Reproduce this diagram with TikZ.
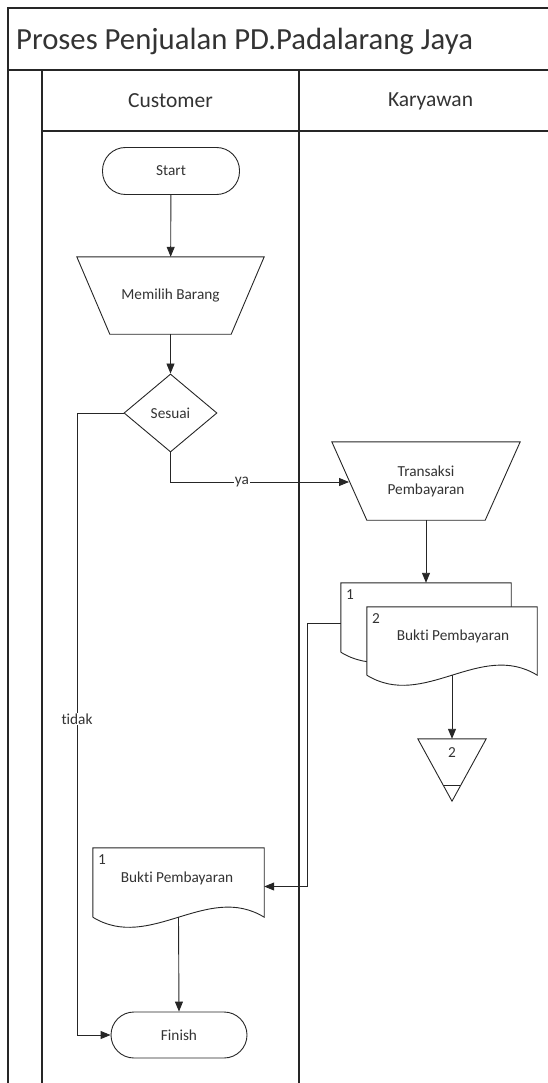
\documentclass[tikz,border=0pt]{standalone}
\usepackage{fontspec}
\setmainfont[Ligatures=NoCommon]{Carlito}
\usetikzlibrary{shapes.geometric,arrows.meta,calc}
\definecolor{ink}{HTML}{262626}
\definecolor{txt}{HTML}{333333}
\begin{document}
\begin{tikzpicture}[x=1pt,y=-1pt,
  line/.style={draw=ink, line width=0.9pt},
  arr/.style={line, -{Triangle[length=10pt,width=8pt]}},
  frame/.style={draw=ink, line width=1.2pt},
  nodefont/.style={font=\fontsize{15.3}{18}\selectfont, text=txt},
  term/.style={line, nodefont, rounded corners=23pt, minimum width=137pt, minimum height=47pt, inner sep=0pt},
  box/.style={inner sep=0pt, nodefont, align=center},
  lbl/.style={fill=white, inner sep=1pt, nodefont},
  num/.style={inner sep=0pt, anchor=north west, nodefont}
]
\useasboundingbox (0,0) rectangle (548,1083);
% swimlane frame
\draw[frame] (548,8) -- (8,8) -- (8,1083);
\draw[frame] (8,70) -- (548,70);
\draw[frame] (42,70) -- (42,1083);
\draw[frame] (299,70) -- (299,1083);
\draw[frame] (42,131) -- (548,131);
\node[anchor=west, inner sep=0pt, font=\fontsize{30.7}{36}\selectfont, text=txt] (title) at (16,41) {Proses Penjualan PD.Padalarang Jaya};
\node[font=\fontsize{21.5}{25}\selectfont, text=txt] (lane1) at (170.5,101) {Customer};
\node[font=\fontsize{21.5}{25}\selectfont, text=txt] (lane2) at (430.5,101) {Karyawan};

% Start
\node[term] (start) at (171,171) {Start};
% Memilih Barang (manual operation)
\node[box, minimum width=187pt, minimum height=77pt] (mem) at (170.5,295.5) {Memilih Barang};
\draw[line] (mem.north west) -- (mem.north east) -- ($(mem.south east)+(-33,0)$) -- ($(mem.south west)+(33,0)$) -- cycle;
% Sesuai decision
\node[line, diamond, nodefont, minimum width=93pt, minimum height=78pt, inner sep=0pt, aspect=1.2] (ses) at (170.5,413) {Sesuai};
% Transaksi Pembayaran
\node[box, minimum width=188pt, minimum height=78pt] (tr) at (426,481) {Transaksi\\Pembayaran};
\draw[line] (tr.north west) -- (tr.north east) -- ($(tr.south east)+(-35,0)$) -- ($(tr.south west)+(35,0)$) -- cycle;
\coordinate (trin) at (349,482);

% Document 1 (back)
\node[box, minimum width=170pt, minimum height=69pt] (d1) at (426,617.5) {};
\draw[line, fill=white] (d1.south west) -- (d1.north west) -- (d1.north east) -- (d1.south east)
  .. controls ($(d1.south east)+(-57,-35)$) and ($(d1.south west)+(57,35)$) .. (d1.south west);
\node[num] (d1n) at ($(d1.north west)+(5,7)$) {1};
% Document 2 (front)
\node[box, minimum width=170pt, minimum height=68pt] (d2) at (452,641) {};
\draw[line, fill=white] (d2.south west) -- (d2.north west) -- (d2.north east) -- (d2.south east)
  .. controls ($(d2.south east)+(-57,-35)$) and ($(d2.south west)+(57,35)$) .. (d2.south west);
\node[num] (d2n) at ($(d2.north west)+(5,7)$) {2};
\node[box] (d2t) at (453,636) {Bukti Pembayaran};

% Off-page connector
\node[box, minimum width=68pt, minimum height=62pt] (off) at (452,770) {};
\draw[line] (off.north west) -- (off.north east) -- (off.south) -- cycle;
\draw[line] (443.2,785) -- (460.8,785);
\node[box] (offn) at (452,753) {2};

% Customer document
\node[box, minimum width=171pt, minimum height=69pt] (bk) at (178.5,882.5) {};
\draw[line, fill=white] (bk.south west) -- (bk.north west) -- (bk.north east) -- (bk.south east)
  .. controls ($(bk.south east)+(-57,-35)$) and ($(bk.south west)+(57,35)$) .. (bk.south west);
\node[num] (bkn) at ($(bk.north west)+(5,7)$) {1};
\node[box] (bkt) at (177,878) {Bukti Pembayaran};

% Finish
\node[term, minimum width=136pt, minimum height=46pt] (fin) at (179,1035) {Finish};

% connectors
\coordinate (tturn) at (77,413);
\coordinate (kturn) at (307,623);
\draw[arr] (start) -- (mem);
\draw[arr] (mem) -- (ses);
\draw[arr] (ses.south) |- node[lbl, pos=0.7] (ya) {ya} (trin);
\draw[arr] (tr) -- (d1);
\draw[arr] (d2.south) -- (off.north);
\draw[arr] ($(d1.west)+(0,5.5)$) -- (kturn) |- ($(bk.east)+(0,4)$);
\draw[arr] (bk.south) -- (fin.north);
\draw[arr] (ses.west) -- (tturn) |- node[lbl, pos=0.246] (tidak) {tidak} (fin.west);
\end{tikzpicture}
\end{document}
